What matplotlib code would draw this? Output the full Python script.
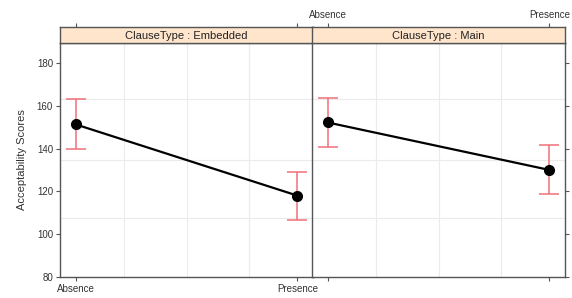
import matplotlib.pyplot as plt

plt.rcParams['font.family'] = ['Liberation Sans', 'DejaVu Sans']

panels = ["ClauseType : Embedded", "ClauseType : Main"]
levels = ["Absence", "Presence"]
fit = [[151.3, 118.0], [152.2, 130.0]]
lower = [[139.6, 106.5], [140.9, 118.8]]
upper = [[163.3, 129.0], [163.5, 141.7]]
yticks = [80, 100, 120, 140, 160, 180]
hgrid = [107.6, 134.7, 163.2]
vgrid = [0.22, 0.5, 0.78]

frame = "#555555"
fig = plt.figure(figsize=(5.72, 2.98), dpi=100)

x0 = [60 / 572, 312 / 572]
w = 253 / 572
pb, ph = 21 / 298, 234 / 298
sh = 16 / 298

for i, name in enumerate(panels):
    ax = fig.add_axes([x0[i], pb, w, ph])
    ax.set_xlim(-0.07, 1.07)
    ax.set_ylim(80, 189.3)
    for g in vgrid:
        ax.axvline(g, color="#ebebeb", lw=0.8, zorder=0)
    for g in hgrid:
        ax.axhline(g, color="#ebebeb", lw=0.8, zorder=0)
    xs = [0, 1]
    ax.plot(xs, fit[i], color="black", lw=1.6, marker="o", ms=7, zorder=3)
    yerr = [[f - l for f, l in zip(fit[i], lower[i])],
            [u - f for f, u in zip(fit[i], upper[i])]]
    ax.errorbar(xs, fit[i], yerr=yerr, fmt="none", ecolor="#f0707a",
                elinewidth=1.1, capsize=7, capthick=1.1, zorder=2)
    for s in ax.spines.values():
        s.set_color(frame)
        s.set_linewidth(1)
    ax.set_xticks(xs)
    ax.set_yticks(yticks)
    ax.tick_params(direction="out", length=3, color=frame, labelsize=7,
                   labelcolor="#333333", pad=2)
    if i == 0:
        ax.set_xticklabels(levels)
        ax.set_ylabel("Acceptability Scores", fontsize=8, color="#333333",
                      labelpad=7)
    else:
        ax.set_xticklabels([])
        ax.yaxis.tick_right()
        ax.set_yticklabels([])

    st = fig.add_axes([x0[i], pb + ph, w, sh])
    st.set_facecolor("#ffe5cc")
    st.set_xlim(-0.07, 1.07)
    st.set_yticks([])
    st.xaxis.tick_top()
    st.set_xticks(xs)
    st.tick_params(direction="out", length=3, color=frame, labelsize=7,
                   labelcolor="#333333", pad=2)
    if i == 1:
        st.set_xticklabels(levels)
    else:
        st.set_xticklabels([])
    for s in st.spines.values():
        s.set_color(frame)
        s.set_linewidth(1)
    st.text(0.5, 0.45, name, transform=st.transAxes, ha="center", va="center",
            fontsize=8, color="#222222")

fig.savefig("out.png", dpi=100)
